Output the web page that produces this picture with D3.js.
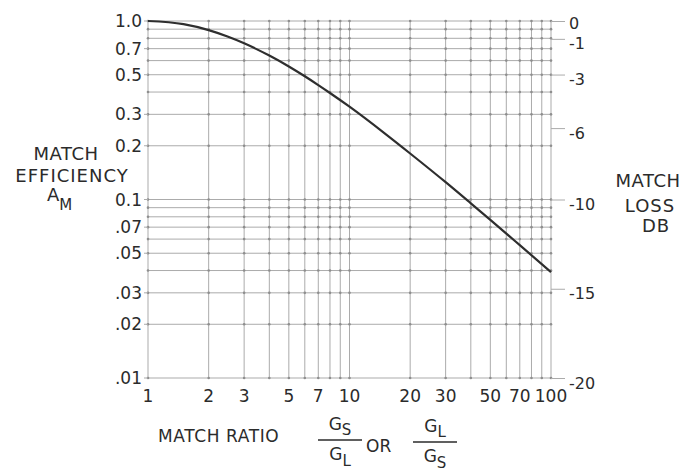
<!DOCTYPE html>
<html>
<head>
<meta charset="utf-8">
<script src="https://cdn.jsdelivr.net/npm/d3@7"></script>
<style>
  html, body { margin: 0; padding: 0; background: #fff; }
  svg { display: block; }
  text { font-family: "DejaVu Sans", "Liberation Sans", sans-serif; fill: #2b2b2b; }
</style>
</head>
<body>
<svg id="chart" width="690" height="473"></svg>
<script>
// ---- data ----
const ratio      = [1, 1.5, 2, 2.5, 3, 4, 5, 6, 7, 8, 10, 15, 20, 30, 40, 50, 70, 100];
const efficiency = [1.0, 0.96, 0.889, 0.816, 0.75, 0.64, 0.556, 0.49, 0.4375, 0.395, 0.331, 0.234, 0.181, 0.125, 0.0952, 0.0769, 0.0555, 0.0392];

const xGridValues = [1, 2, 3, 4, 5, 6, 7, 8, 9, 10, 20, 30, 40, 50, 60, 70, 80, 90, 100];
const yGridValues = [0.01, 0.02, 0.03, 0.04, 0.05, 0.06, 0.07, 0.08, 0.09, 0.1, 0.2, 0.3, 0.4, 0.5, 0.6, 0.7, 0.8, 0.9, 1.0];

const xTickValues = [1, 2, 3, 5, 7, 10, 20, 30, 50, 70, 100];
const xTickLabels = ["1", "2", "3", "5", "7", "10", "20", "30", "50", "70", "100"];

const yTickValues = [1.0, 0.7, 0.5, 0.3, 0.2, 0.1, 0.07, 0.05, 0.03, 0.02, 0.01];
const yTickLabels = ["1.0", "0.7", "0.5", "0.3", "0.2", "0.1", ".07", ".05", ".03", ".02", ".01"];

const dbTickValues = [0, -1, -3, -6, -10, -15, -20];
const dbTickLabels = ["0", "-1", "-3", "-6", "-10", "-15", "-20"];

// ---- layout ----
const svg = d3.select("#chart");
const pLeft = 148, pRight = 551, pTop = 21, pBottom = 378;

const x = d3.scaleLog().domain([1, 100]).range([pLeft, pRight]);
const y = d3.scaleLog().domain([0.01, 1]).range([pBottom, pTop]);
const yDb = d3.scaleLinear().domain([-20, 0]).range([pBottom, pTop]);

const gridColor = "#ababab";

// grid
const g = svg.append("g");
g.selectAll("line.v").data(xGridValues).enter().append("line")
  .attr("x1", d => x(d)).attr("x2", d => x(d))
  .attr("y1", pTop).attr("y2", pBottom)
  .attr("stroke", gridColor).attr("stroke-width", 1);
g.selectAll("line.h").data(yGridValues).enter().append("line")
  .attr("y1", d => y(d)).attr("y2", d => y(d))
  .attr("x1", pLeft).attr("x2", pRight)
  .attr("stroke", gridColor).attr("stroke-width", 1);

// intersection marks
const pts = [];
xGridValues.forEach(a => yGridValues.forEach(b => pts.push([a, b])));
g.selectAll("circle.m").data(pts).enter().append("circle")
  .attr("cx", d => x(d[0])).attr("cy", d => y(d[1]))
  .attr("r", 1.3).attr("fill", "#8e8e8e");

// curve
const line = d3.line()
  .x((d, i) => x(ratio[i]))
  .y(d => y(d))
  .curve(d3.curveMonotoneX);
svg.append("path")
  .datum(efficiency)
  .attr("d", line)
  .attr("fill", "none")
  .attr("stroke", "#2e2e2e")
  .attr("stroke-width", 2.2);

// left tick labels
svg.selectAll("text.yl").data(yTickValues).enter().append("text")
  .attr("x", 142).attr("y", d => y(d))
  .attr("dy", "0.36em")
  .attr("text-anchor", "end")
  .attr("font-size", 17)
  .text((d, i) => yTickLabels[i]);

// left short ticks
svg.selectAll("line.yt").data(yTickValues).enter().append("line")
  .attr("x1", pLeft - 4).attr("x2", pLeft)
  .attr("y1", d => y(d)).attr("y2", d => y(d))
  .attr("stroke", gridColor);

// right dB ticks
const dbAxis = d3.axisRight(yDb)
  .tickValues(dbTickValues)
  .tickSize(14)
  .tickPadding(4)
  .tickFormat((d, i) => dbTickLabels[i]);
const dbG = svg.append("g").attr("transform", `translate(${pRight},0)`).call(dbAxis);
dbG.select(".domain").remove();
dbG.selectAll(".tick line").attr("stroke", gridColor);
dbG.selectAll(".tick text")
  .attr("font-size", 16)
  .attr("fill", "#2b2b2b")
  .attr("transform", d => d === 0 ? "translate(0,2)" : "translate(0,5)")
  .style("font-family", "DejaVu Sans, sans-serif");

// x tick labels
svg.selectAll("text.xl").data(xTickValues).enter().append("text")
  .attr("x", d => x(d)).attr("y", 402)
  .attr("text-anchor", "middle")
  .attr("font-size", 17)
  .text((d, i) => xTickLabels[i]);

// left title
const lt = svg.append("g");
lt.append("text").attr("x", 66).attr("y", 160).attr("text-anchor", "middle")
  .attr("letter-spacing", 0.5).attr("font-size", 18).text("MATCH");
lt.append("text").attr("x", 72).attr("y", 182).attr("text-anchor", "middle")
  .attr("letter-spacing", 1).attr("font-size", 18).text("EFFICIENCY");
const am = lt.append("text").attr("x", 47).attr("y", 201).attr("font-size", 18);
am.append("tspan").text("A");
am.append("tspan").attr("dy", 9).attr("font-size", 15).text("M");

// right title
const rt = svg.append("g");
rt.append("text").attr("x", 648).attr("y", 187).attr("text-anchor", "middle")
  .attr("font-size", 18).attr("letter-spacing", 0.5).text("MATCH");
rt.append("text").attr("x", 650).attr("y", 212).attr("text-anchor", "middle")
  .attr("font-size", 18).attr("letter-spacing", 1).text("LOSS");
rt.append("text").attr("x", 656).attr("y", 232).attr("text-anchor", "middle")
  .attr("font-size", 18).attr("letter-spacing", 1).text("DB");

// x title
const xt = svg.append("g");
xt.append("text").attr("x", 158).attr("y", 442).attr("font-size", 17)
  .attr("letter-spacing", 0.6).text("MATCH RATIO");
function frac(cx, num, numSub, den, denSub, yBar) {
  const n = xt.append("text").attr("x", cx).attr("y", yBar - 10)
    .attr("text-anchor", "middle").attr("font-size", 17);
  n.append("tspan").text(num);
  n.append("tspan").attr("dy", 5).attr("font-size", 15).text(numSub);
  xt.append("line").attr("x1", cx - 22).attr("x2", cx + 22)
    .attr("y1", yBar).attr("y2", yBar).attr("stroke", "#2b2b2b").attr("stroke-width", 1.4);
  const dn = xt.append("text").attr("x", cx).attr("y", yBar + 20)
    .attr("text-anchor", "middle").attr("font-size", 17);
  dn.append("tspan").text(den);
  dn.append("tspan").attr("dy", 6).attr("font-size", 15).text(denSub);
}
frac(340, "G", "S", "G", "L", 440);
xt.append("text").attr("x", 366).attr("y", 452).attr("font-size", 17).text("OR");
frac(435, "G", "L", "G", "S", 442);
</script>
</body>
</html>
